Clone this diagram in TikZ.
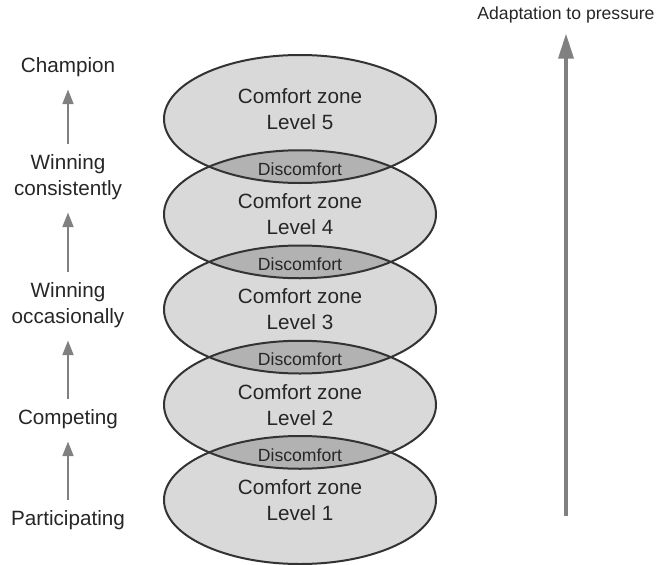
\documentclass[tikz,border=0pt]{standalone}
\usepackage{fontspec}
\setmainfont{Liberation Sans}
\usetikzlibrary{arrows.meta}

\definecolor{zonegray}{gray}{0.85}
\definecolor{lensgray}{gray}{0.70}
\definecolor{arrowgray}{gray}{0.5}
\definecolor{edgegray}{gray}{0.2}

\begin{document}
\begin{tikzpicture}[x=0.75pt,y=-0.75pt,
  zonetext/.style={align=center,font=\fontsize{15.5}{19.5}\selectfont,text=black!85},
  smalltext/.style={font=\fontsize{13.2}{16}\selectfont,text=black!85},
  steparrow/.style={draw=arrowgray,line width=1.9pt,-{Triangle[length=11pt,width=8pt]},shorten <=4pt,shorten >=6pt},
  bigarrow/.style={draw=arrowgray,line width=3.2pt,-{Triangle[length=19pt,width=11pt]},shorten >=4pt}]
\useasboundingbox (0,0) rectangle (660,564);

% comfort zones, from level 1 up
\foreach \i in {1,...,5}
  \fill[zonegray] (300,{500-95.25*(\i-1)}) ellipse [x radius=136, y radius=64];
\foreach \i in {1,...,4}{
  \begin{scope}
    \clip (300,{500-95.25*(\i-1)}) ellipse [x radius=136, y radius=64];
    \fill[lensgray] (300,{500-95.25*\i}) ellipse [x radius=136, y radius=64];
  \end{scope}
}
\foreach \i in {1,...,5}
  \draw[edgegray,line width=1.5pt] (300,{500-95.25*(\i-1)}) ellipse [x radius=136, y radius=64];

\foreach \i in {1,...,4}
  \node[zonetext] (zone\i) at (300,{500-95.25*(\i-1)}) {Comfort zone\\Level \i};
\node[zonetext] (zone5) at (300,109) {Comfort zone\\Level 5};
\foreach \i in {1,...,4}
  \node[smalltext] (dis\i) at (300,{500-95.25*\i+50}) {Discomfort};

% stages on the left
\node[zonetext] (champ) at (68,67) {Champion};
\node[zonetext] (wcons) at (68,177) {Winning\\consistently};
\node[zonetext] (wocc) at (68,305) {Winning\\occasionally};
\node[zonetext] (comp) at (68,419) {Competing};
\node[zonetext] (part) at (68,520) {Participating};

\draw[steparrow] (part) -- (comp);
\draw[steparrow] (comp) -- (wocc);
\draw[steparrow] (wocc) -- (wcons);
\draw[steparrow] (wcons) -- (champ);

% pressure axis
\node[smalltext] (adapt) at (566,15) {Adaptation to pressure};
\coordinate (base) at (566,516);
\draw[bigarrow] (base) -- (adapt);

\end{tikzpicture}
\end{document}
